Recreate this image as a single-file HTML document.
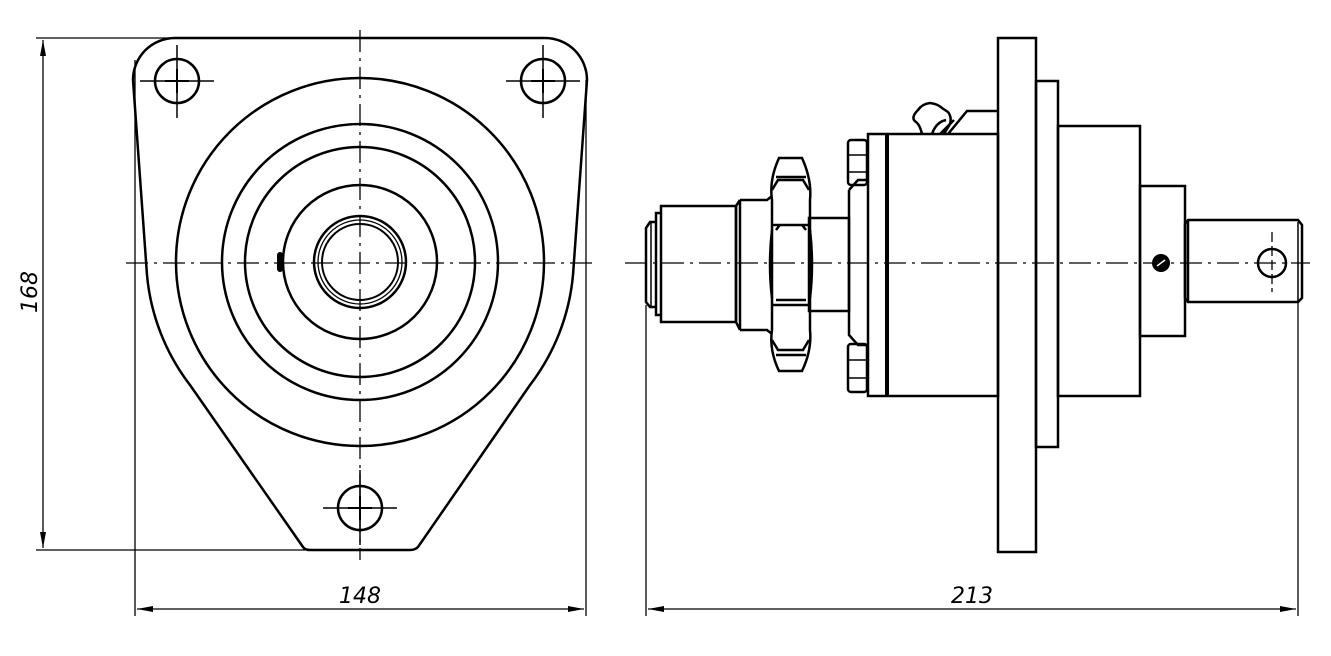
<!DOCTYPE html>
<html><head><meta charset="utf-8"><style>
html,body{margin:0;padding:0;background:#fff;}
svg{display:block;}
text{font-family:"DejaVu Sans","Liberation Sans",sans-serif;font-style:italic;font-size:22px;fill:#000;}
</style></head><body>
<svg width="1331" height="656" viewBox="0 0 1331 656" xmlns="http://www.w3.org/2000/svg">
<defs>
<marker id="ar" viewBox="0 0 16 6" refX="16" refY="3" markerWidth="16" markerHeight="6" markerUnits="userSpaceOnUse" orient="auto-start-reverse"><path d="M0,0 L16,3 L0,6 z" fill="#000"/></marker>
</defs>
<g fill="none" stroke="#000">
<g stroke-width="1.3" stroke-dasharray="22,6,3,6">
<line x1="126" y1="263" x2="596" y2="263"/>
<line x1="360" y1="30" x2="360" y2="560"/>
<line x1="625" y1="263" x2="1310" y2="263"/>
</g>
<g stroke-width="1.3">
<line x1="36" y1="38" x2="175" y2="38"/>
<line x1="36" y1="550" x2="305" y2="550"/>
<line x1="43" y1="40" x2="43" y2="548" marker-start="url(#ar)" marker-end="url(#ar)"/>
<line x1="135" y1="60" x2="135" y2="616"/>
<line x1="586" y1="80" x2="586" y2="616"/>
<line x1="137" y1="609" x2="584" y2="609" marker-start="url(#ar)" marker-end="url(#ar)"/>
<line x1="646" y1="305" x2="646" y2="616"/>
<line x1="1298" y1="300" x2="1298" y2="616"/>
<line x1="648" y1="609" x2="1296" y2="609" marker-start="url(#ar)" marker-end="url(#ar)"/>
</g>
<g stroke-width="2.5">
<path d="M175,38 L545,38 A42,42 0 0 1 587,80 L573,275 A212,212 0 0 1 530,385 L418,547 Q415,550 410,550 L310,550 Q305,550 303,547 L190,385 A212,212 0 0 1 147,275 L133,80 A42,42 0 0 1 175,38 Z"/>
<circle cx="360" cy="262" r="184"/>
<circle cx="360" cy="262" r="138"/>
<circle cx="360" cy="262" r="115"/>
<circle cx="360" cy="262" r="77"/>
<circle cx="360" cy="262" r="46"/>
<circle cx="360" cy="262" r="38" stroke-width="2"/>
<circle cx="177" cy="81" r="22"/>
<circle cx="543" cy="81" r="22"/>
<circle cx="360" cy="508" r="22"/>
</g>
<g stroke-width="1.5">
<path d="M140,81 H214 M177,45 V118 M506,81 H580 M543,45 V118 M323,508 H397 M360,470 V545"/>
<path d="M165,81 H189 M177,69 V93 M531,81 H555 M543,69 V93 M348,508 H372 M360,496 V520" stroke-width="2"/>
</g>
<rect x="277" y="252" width="6" height="20" rx="3" fill="#000" stroke="none"/>
<circle cx="360" cy="262" r="42" stroke-width="1.3"/>
<g stroke-width="2.5">
<rect x="998" y="38" width="38" height="514"/>
<rect x="1036" y="81" width="22" height="366"/>
<rect x="1058" y="126" width="82" height="270"/>
<rect x="1140" y="186" width="45" height="150"/>
<path d="M1188,220 H1298 L1302,225 V298 L1298,302 H1188 L1185,298 V224 Z"/>
<line x1="1188" y1="220" x2="1188" y2="302"/>
<line x1="1298" y1="222" x2="1298" y2="302" stroke-width="1.5"/>
<circle cx="1272" cy="263" r="14"/>
<rect x="868" y="134" width="130" height="262"/>
<line x1="887" y1="134" x2="887" y2="396" stroke-width="4"/>
<path d="M849,190 L858,180 H868 M849,190 V335 L858,345 H868"/>
<rect x="848" y="140" width="19" height="45" rx="3"/>
<line x1="848" y1="155" x2="867" y2="155" stroke-width="1.6"/>
<line x1="848" y1="172" x2="867" y2="172" stroke-width="1.6"/>
<rect x="848" y="344" width="19" height="48" rx="3"/>
<line x1="848" y1="360" x2="867" y2="360" stroke-width="1.6"/>
<line x1="848" y1="378" x2="867" y2="378" stroke-width="1.6"/>
<rect x="809" y="218" width="40" height="93"/>
<path d="M779,158 H802 Q812,180 810,200 V330 Q812,350 802,371 H779 Q769,350 772,330 V200 Q769,180 779,158 Z"/>
<path d="M776,177 H806 M772,190 L778,180 H803 L809,190 M772,225 H810 M776,230 L780,225 M806,230 L802,225 M776,300 H806 M772,305 H810 M772,340 L778,350 H803 L809,340 M776,355 H806"/>
<path d="M772,230 Q768,265 772,298 M810,230 Q814,265 810,298"/>
<path d="M740,200 H767 L772,196 M740,330 H767 L772,334"/>
<path d="M740,200 V330 M736,206 L740,200 M736,322 L740,330"/>
<line x1="736" y1="206" x2="736" y2="322"/>
<rect x="661" y="206" width="75" height="116"/>
<path d="M661,213 H656 V315 H661"/>
<path d="M656,222 H650 L646,228 V302 L650,307 H656"/>
<line x1="651" y1="222" x2="651" y2="307" stroke-width="1.5"/>
<path d="M998,111 H967 L948,134"/>
<path d="M922,134 Q920,125 916,122 Q910,118 918,110 Q922,104 930,103 Q938,104 942,108 L948,112 Q952,117 950,124 L944,134" />
<path d="M932,134 Q936,122 946,120 M940,134 Q948,126 954,120"/>
</g>
<circle cx="1161" cy="263" r="9" fill="#000" stroke="none"/>
<line x1="1157" y1="266" x2="1165" y2="260" stroke="#fff" stroke-width="1.5"/>
<g stroke-width="1.3"><line x1="1272" y1="232" x2="1272" y2="292" stroke-dasharray="10,4"/></g>
</g>
<text x="360" y="603" text-anchor="middle">148</text>
<text x="972" y="603" text-anchor="middle">213</text>
<text transform="translate(37,292) rotate(-90)" text-anchor="middle">168</text>
</svg>
</body></html>
